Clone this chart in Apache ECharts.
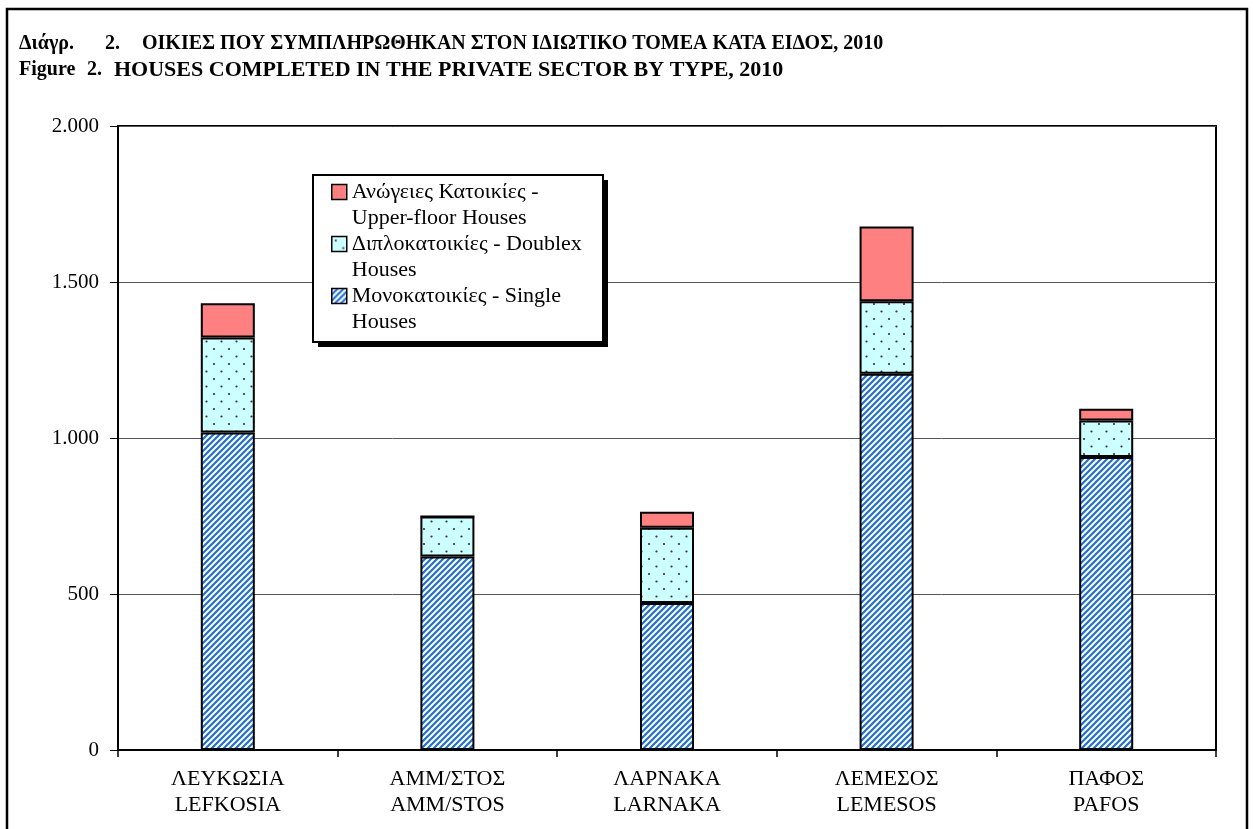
<!DOCTYPE html>
<html>
<head>
<meta charset="utf-8">
<script src="https://cdn.jsdelivr.net/npm/echarts@6/dist/echarts.min.js"></script>
<style>
html,body{margin:0;padding:0;background:#fff;}
#chart{width:1253px;height:829px;}
</style>
</head>
<body>
<div id="chart"></div>
<script>
// ---- data ----
const categoriesGreek = ['ΛΕΥΚΩΣΙΑ', 'ΑΜΜ/ΣΤΟΣ', 'ΛΑΡΝΑΚΑ', 'ΛΕΜΕΣΟΣ', 'ΠΑΦΟΣ'];
const categoriesLatin = ['LEFKOSIA', 'AMM/STOS', 'LARNAKA', 'LEMESOS', 'PAFOS'];
const singleHouses = [1018, 620, 471, 1206, 939];
const doublexHouses = [304, 128, 241, 232, 117];
const upperFloorHouses = [110, 0, 52, 240, 38];
const seriesNames = [
  'Μονοκατοικίες - Single\nHouses',
  'Διπλοκατοικίες - Doublex\nHouses',
  'Ανώγειες Κατοικίες -\nUpper-floor Houses'
];
const titleGr = ['Διάγρ.', '2.', 'ΟΙΚΙΕΣ ΠΟΥ ΣΥΜΠΛΗΡΩΘΗΚΑΝ ΣΤΟΝ ΙΔΙΩΤΙΚΟ ΤΟΜΕΑ ΚΑΤΑ ΕΙΔΟΣ, 2010'];
const titleEn = ['Figure', '2.', 'HOUSES COMPLETED IN THE PRIVATE SECTOR BY TYPE, 2010'];

const FONT = '"Liberation Serif", "DejaVu Serif", serif';

// ---- patterns ----
function hatchPattern() {
  const s = 6, c = document.createElement('canvas');
  c.width = s; c.height = s;
  const g = c.getContext('2d');
  g.fillStyle = '#ffffff'; g.fillRect(0, 0, s, s);
  g.strokeStyle = '#1f70d6'; g.lineWidth = 2.2;
  g.beginPath();
  g.moveTo(-s, s); g.lineTo(s, -s);
  g.moveTo(0, 2 * s); g.lineTo(2 * s, 0);
  g.moveTo(-s, 2 * s); g.lineTo(2 * s, -s);
  g.stroke();
  return { image: c, repeat: 'repeat' };
}
function dotPattern() {
  const w = 15, h = 15, c = document.createElement('canvas');
  c.width = w; c.height = h;
  const g = c.getContext('2d');
  g.fillStyle = '#ccffff'; g.fillRect(0, 0, w, h);
  g.fillStyle = '#333333';
  g.beginPath(); g.arc(4, 4, 1.1, 0, Math.PI * 2); g.fill();
  g.beginPath(); g.arc(11.5, 11.5, 1.1, 0, Math.PI * 2); g.fill();
  return { image: c, repeat: 'repeat' };
}

const seriesColors = [hatchPattern(), dotPattern(), '#ff8080'];
const seriesData = [singleHouses, doublexHouses, upperFloorHouses];

const chart = echarts.init(document.getElementById('chart'), null, { renderer: 'canvas' });

function titleItem(text, left, top, size) {
  return {
    text: text, left: left, top: top, padding: 0,
    textStyle: { fontFamily: FONT, fontSize: size, fontWeight: 'bold', color: '#000' }
  };
}

const option = {
  animation: false,
  backgroundColor: '#ffffff',
  title: [
    titleItem(titleGr[0], 19, 34, 20), titleItem(titleGr[1], 105, 34, 20), titleItem(titleGr[2], 142, 34, 20),
    titleItem(titleEn[0], 19, 60, 20), titleItem(titleEn[1], 87, 60, 20), titleItem(titleEn[2], 114, 59, 22)
  ],
  graphic: [
    { type: 'rect', z: 1, shape: { x: 7, y: 9, width: 1240, height: 840 },
      style: { fill: 'none', stroke: '#000', lineWidth: 2.5 } },
    { type: 'rect', z: 3, shape: { x: 318, y: 180, width: 290, height: 167 },
      style: { fill: '#000' } },
    { type: 'rect', z: 3, shape: { x: 313, y: 175, width: 290, height: 167 },
      style: { fill: '#fff', stroke: '#000', lineWidth: 2 } }
  ],
  legend: {
    z: 6,
    orient: 'vertical',
    left: 331,
    top: 153,
    padding: 0,
    itemGap: -26,
    itemWidth: 15,
    itemHeight: 15,
    icon: 'rect',
    data: [seriesNames[2], seriesNames[1], seriesNames[0]],
    formatter: name => '\n' + name,
    itemStyle: { borderColor: '#000', borderWidth: 1.5 },
    textStyle: { fontFamily: FONT, fontSize: 22, lineHeight: 26, color: '#000' }
  },
  grid: {
    left: 118, right: 37, top: 126, bottom: 79,
    show: true, borderColor: '#000', borderWidth: 2, backgroundColor: 'transparent'
  },
  xAxis: {
    type: 'category',
    data: categoriesGreek.map((g, i) => g + '\n' + categoriesLatin[i]),
    axisLine: { lineStyle: { color: '#000', width: 2 } },
    axisTick: { show: true, length: 7, lineStyle: { color: '#000', width: 1.5 } },
    axisLabel: { margin: 16, fontFamily: FONT, fontSize: 22, lineHeight: 26, color: '#000' }
  },
  yAxis: {
    type: 'value', min: 0, max: 2000, interval: 500,
    axisLine: { show: true, lineStyle: { color: '#000', width: 2 } },
    axisTick: { show: true, length: 8, lineStyle: { color: '#000', width: 1 } },
    axisLabel: {
      margin: 19, fontFamily: FONT, fontSize: 21, color: '#000',
      formatter: v => String(v).replace(/\B(?=(\d{3})+(?!\d))/g, '.')
    },
    splitLine: { show: true, lineStyle: { color: '#555', width: 1 } }
  },
  series: seriesNames.map((name, i) => ({
    name: name,
    type: 'bar',
    stack: 'total',
    barWidth: '24.6%',
    data: seriesData[i],
    itemStyle: { color: seriesColors[i], borderColor: '#000', borderWidth: 2 },
    emphasis: { disabled: true }
  }))
};

chart.setOption(option);
</script>
</body>
</html>
